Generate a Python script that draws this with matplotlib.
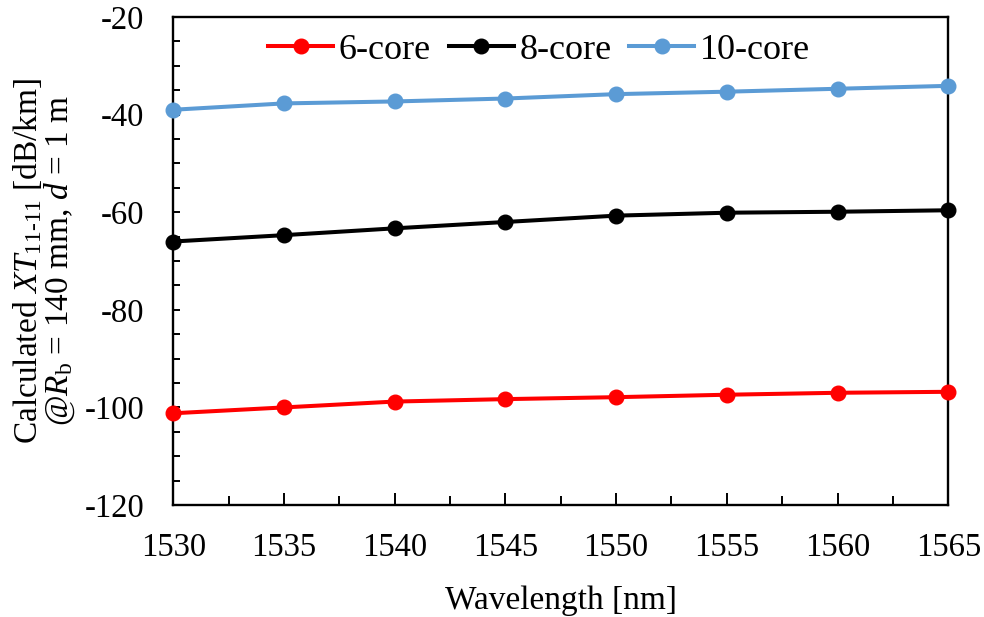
import matplotlib
matplotlib.use("Agg")
import matplotlib.pyplot as plt
from matplotlib.ticker import MultipleLocator

plt.rcParams["font.family"] = ["Liberation Serif", "DejaVu Serif"]
plt.rcParams["mathtext.fontset"] = "custom"
plt.rcParams["mathtext.rm"] = "Liberation Serif"
plt.rcParams["mathtext.it"] = "Liberation Serif:italic"
plt.rcParams["mathtext.bf"] = "Liberation Serif:bold"
plt.rcParams["axes.unicode_minus"] = False

wavelength = [1530, 1535, 1540, 1545, 1550, 1555, 1560, 1565]
xt_6core = [-101.2, -100.0, -98.8, -98.3, -97.9, -97.4, -97.0, -96.8]
xt_8core = [-66.0, -64.7, -63.3, -62.0, -60.7, -60.1, -59.9, -59.6]
xt_10core = [-39.0, -37.7, -37.3, -36.7, -35.8, -35.3, -34.7, -34.1]

series_labels = ["6-core", "8-core", "10-core"]
series_colors = ["#FF0000", "#000000", "#5B9BD5"]

fig = plt.figure(figsize=(9.84, 6.17), dpi=100)
ax = fig.add_axes([0.1761, 0.1815, 0.9637 - 0.1761, 0.9724 - 0.1815])

for ys, lab, col in zip([xt_6core, xt_8core, xt_10core], series_labels, series_colors):
    ax.plot(wavelength, ys, color=col, lw=2.9, marker="o", ms=10.5,
            label=lab, clip_on=False, zorder=3)

ax.set_xlim(1530, 1565)
ax.set_ylim(-120, -20)
ax.xaxis.set_major_locator(MultipleLocator(5))
ax.xaxis.set_minor_locator(MultipleLocator(2.5))
ax.yaxis.set_major_locator(MultipleLocator(20))
ax.yaxis.set_minor_locator(MultipleLocator(5))

ax.tick_params(axis="x", which="major", direction="in", length=9, width=1.4,
               labelsize=23.5, pad=20)
ax.tick_params(axis="x", which="minor", direction="in", length=6.5, width=1.4)
ax.tick_params(axis="y", which="both", direction="in", length=5, width=1.4,
               labelsize=23.5, pad=21)
for sp in ax.spines.values():
    sp.set_linewidth(1.7)

ax.set_xlabel("Wavelength [nm]", fontsize=24, labelpad=16)
ax.set_ylabel("Calculated $XT_{11\u201011}$ [dB/km]\n"
              "@$R_\\mathrm{b}$ = 140 mm, $d$ = 1 m",
              fontsize=24, linespacing=0.95, labelpad=5)

leg = ax.legend(loc="upper center", bbox_to_anchor=(0.472, 1.0), ncol=3,
                frameon=False, fontsize=26, handlelength=1.8,
                handletextpad=0.15, columnspacing=0.5, borderaxespad=0.05)

fig.savefig("out.png", dpi=100)
